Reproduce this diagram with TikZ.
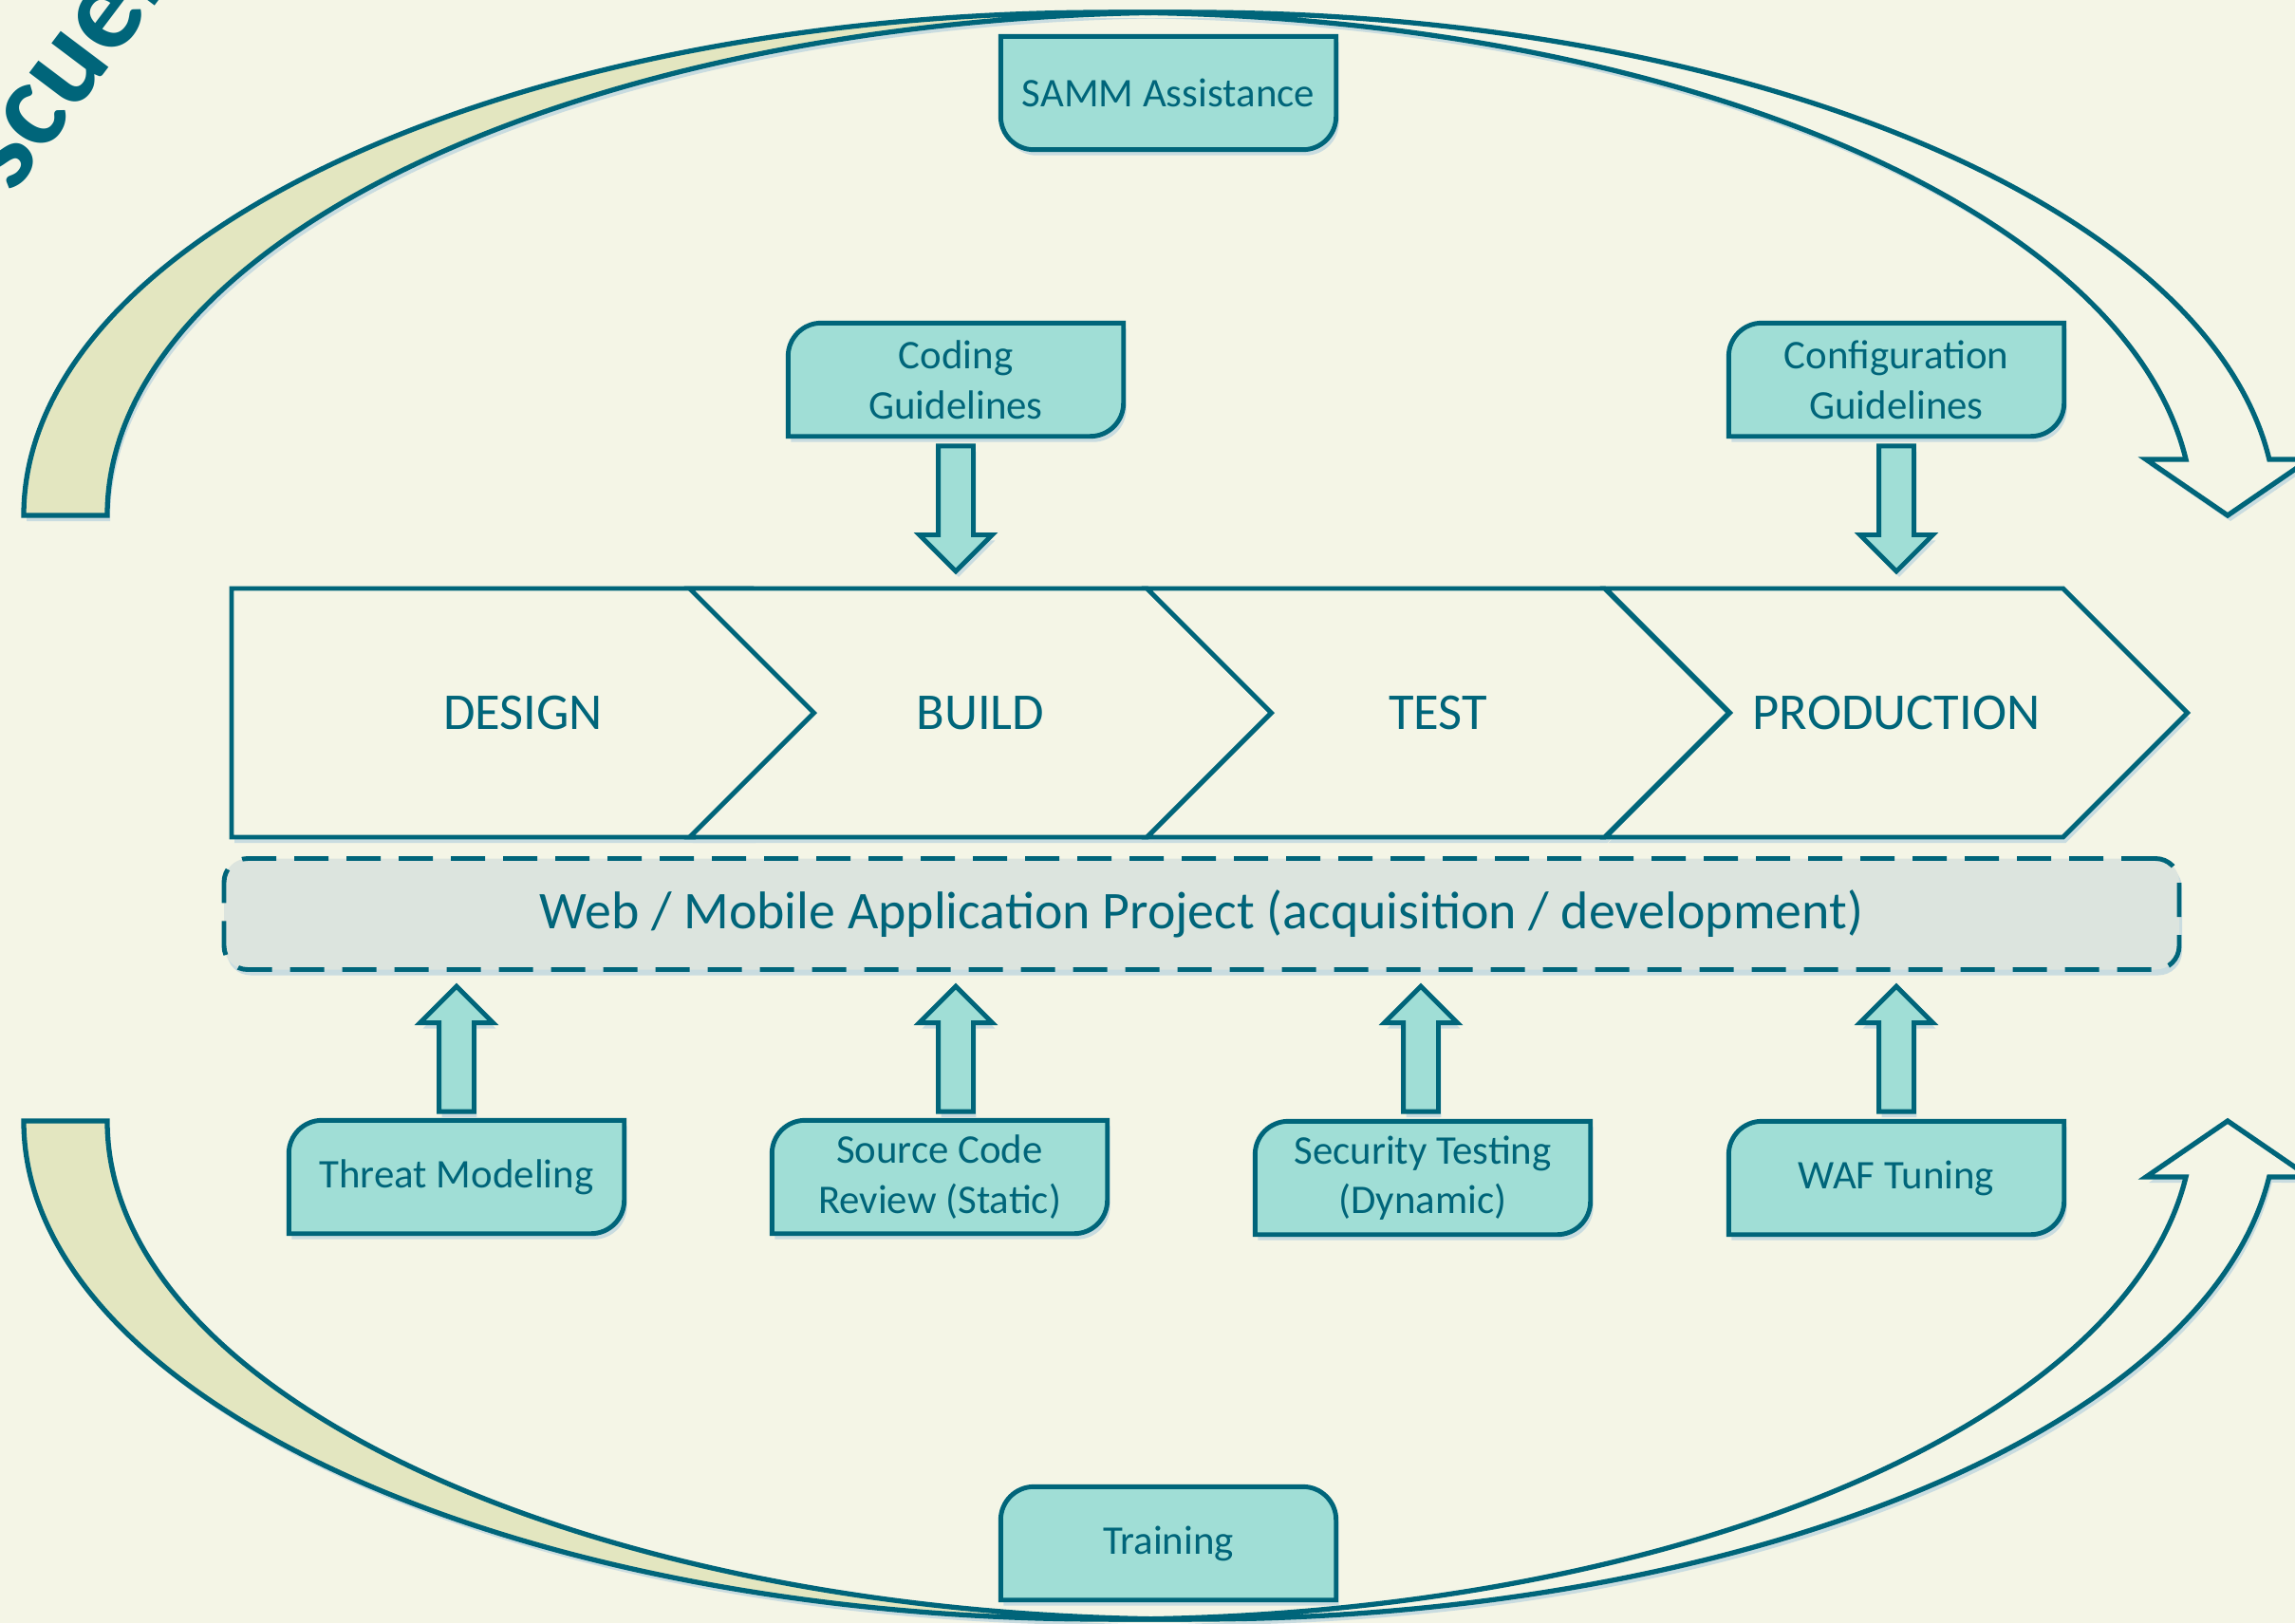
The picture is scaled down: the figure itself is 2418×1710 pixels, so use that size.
\documentclass[tikz,border=0pt]{standalone}
\usepackage{fontspec}
\setmainfont{Carlito}
\usetikzlibrary{shapes.symbols,shapes.arrows,shadows,calc,positioning}

\definecolor{paper}{HTML}{F4F5E6}
\definecolor{ink}{HTML}{00657A}
\definecolor{tagfill}{HTML}{A0DED6}
\definecolor{bandfill}{HTML}{E3E6C0}
\definecolor{projfill}{HTML}{DCE4DE}
\definecolor{shadowc}{HTML}{C9DCE0}

\pgfdeclarelayer{back}
\pgfsetlayers{back,main}

\begin{document}
\begin{tikzpicture}[x=0.1mm, y=-0.1mm, line width=1.3pt,
    dropsh/.style = {drop shadow={shadow xshift=0.3mm, shadow yshift=-0.6mm, fill=shadowc, opacity=1}},
    phase/.style = {signal, signal to=east, signal from=west, signal pointer angle=90, draw=ink, line width=1.4pt, fill=paper, dropsh, minimum height=26.2mm, minimum width=61.3mm, inner sep=0pt, text=ink, font=\fontsize{15.5}{18}\selectfont},
    task/.style = {text=ink, align=center, minimum width=35.2mm, minimum height=11.8mm, inner sep=0pt, font=\fontsize{12.2}{15}\selectfont},
    tagline/.style = {draw=ink, fill=tagfill, line width=1.4pt, dropsh},
    blockarr/.style = {single arrow, draw=ink, line width=1.4pt, fill=tagfill, dropsh, minimum height=13.2mm, minimum width=7.2mm, single arrow head extend=2mm, inner xsep=0pt, inner ysep=1.6mm},
    cycleband/.style = {draw=ink, line width=1.5pt, dropsh},
    project/.style = {draw=ink, fill=projfill, line width=1.4pt, dash pattern=on 3.6mm off 1.9mm, rounded corners=2.5mm, dropsh, minimum width=206mm, minimum height=11.7mm, text=ink, font=\fontsize{15.9}{18}\selectfont}]

  \begin{pgfonlayer}{back}
    \fill[paper] (0,0) rectangle (2418,1710);
  \end{pgfonlayer}
  \useasboundingbox (0,0) rectangle (2418,1710);
  \clip (0,0) rectangle (2418,1710);

  \node[rotate=53, anchor=base west, inner sep=0pt, text=ink, font=\fontsize{37}{40}\selectfont\bfseries] (title) at (13,206) {scuel};

  % top loop
  \draw[cycleband, fill=bandfill] (25,543) arc[start angle=180, end angle=270, x radius=1142.5, y radius=530]
    -- (1255.5,13) arc[start angle=270, end angle=180, x radius=1142.5, y radius=530] -- cycle;
  \draw[cycleband, fill=paper] (1255.5,13) arc[start angle=270, end angle=353.6, x radius=1142.5, y radius=530]
    -- (2433,484) -- (2347,543) -- (2261,484) -- (2303,484)
    arc[start angle=353.6, end angle=270, x radius=1142.5, y radius=530] -- cycle;

  % bottom loop
  \draw[cycleband, fill=bandfill] (25,1181) arc[start angle=180, end angle=90, x radius=1142.5, y radius=525]
    -- (1255.5,1706) arc[start angle=90, end angle=180, x radius=1142.5, y radius=525] -- cycle;
  \draw[cycleband, fill=paper] (1255.5,1706) arc[start angle=90, end angle=6.45, x radius=1142.5, y radius=525]
    -- (2433,1240) -- (2347,1181) -- (2261,1240) -- (2303,1240)
    arc[start angle=6.45, end angle=90, x radius=1142.5, y radius=525] -- cycle;

  % phases
  \node[phase, signal from=nowhere, minimum width=68mm] (design) at (518.5,751) {\hspace*{6.5mm}DESIGN};
  \node[phase] (build) at (1033,751) {BUILD};
  \node[phase] (test) at (1515,751) {TEST};
  \node[phase] (production) at (1998,751) {PRODUCTION};

  \node[project] (webapp) at (1266,963) {Web / Mobile Application Project (acquisition / development)};

  % activities
  \node[task] (samm) at (1231,98) {SAMM Assistance};
  \node[task] (training) at (1231,1626) {Training};
  \node[task] (coding) at (1007,400) {Coding\\Guidelines};
  \node[task] (config) at (1998,400) {Configuration\\Guidelines};
  \node[task] (threat) at (481,1240) {Threat Modeling};
  \node[task] (source) at (990,1240) {Source Code\\Review (Static)};
  \node[task] (security) at (1499,1241) {Security Testing\\(Dynamic)};
  \node[task] (waf) at (1998,1241) {WAF Tuning};

  \node[blockarr, rotate=-90] (codingarr) at ($(coding.south)+(0,67)$) {};
  \node[blockarr, rotate=-90] (configarr) at ($(config.south)+(0,67)$) {};
  \node[blockarr, rotate=90] (threatarr) at ($(threat.north)+(0,-66)$) {};
  \node[blockarr, rotate=90] (sourcearr) at ($(source.north)+(17,-66)$) {};
  \node[blockarr, rotate=90] (securityarr) at ($(security.north)+(-2,-67)$) {};
  \node[blockarr, rotate=90] (wafarr) at ($(waf.north)+(0,-67)$) {};

  \begin{pgfonlayer}{back}
    \foreach \n in {coding,config,threat,source,security,waf}
      \draw[tagline] ([yshift=-3.5mm]\n.north west) arc[start angle=180, end angle=90, radius=3.5mm]
        -- (\n.north east) -- ([yshift=3.5mm]\n.south east) arc[start angle=0, end angle=-90, radius=3.5mm]
        -- (\n.south west) -- cycle;
    \draw[tagline] (samm.north west) -- (samm.north east) -- ([yshift=3.5mm]samm.south east)
      arc[start angle=0, end angle=-90, radius=3.5mm] -- ([xshift=3.5mm]samm.south west)
      arc[start angle=270, end angle=180, radius=3.5mm] -- cycle;
    \draw[tagline] (training.south west) -- ([yshift=-3.5mm]training.north west)
      arc[start angle=180, end angle=90, radius=3.5mm] -- ([xshift=-3.5mm]training.north east)
      arc[start angle=90, end angle=0, radius=3.5mm] -- (training.south east) -- cycle;
  \end{pgfonlayer}
\end{tikzpicture}
\end{document}
